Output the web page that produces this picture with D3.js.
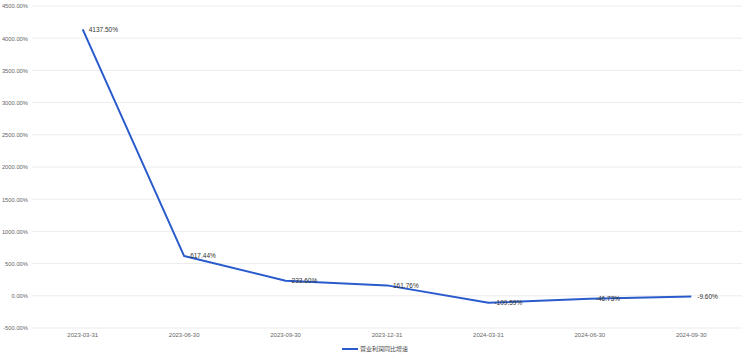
<!DOCTYPE html>
<html>
<head>
<meta charset="utf-8">
<script src="https://cdn.jsdelivr.net/npm/d3@7"></script>
<style>
  body { margin: 0; background: #fff; }
  text { font-family: "Liberation Sans", "Noto Sans CJK SC", sans-serif; }
  .cjk { font-family: "Noto Sans CJK SC", sans-serif; }
</style>
</head>
<body>
<div id="wrapper"></div>
<script>
const dates = ["2023-03-31", "2023-06-30", "2023-09-30", "2023-12-31", "2024-03-31", "2024-06-30", "2024-09-30"]
const growth = [4137.50, 617.44, 233.60, 161.76, -109.59, -46.73, -9.60]
const yTicks = [-500, 0, 500, 1000, 1500, 2000, 2500, 3000, 3500, 4000, 4500]
const seriesName = "营业利润同比增速"

let dimensions = {
    width: 750,
    height: 358,
    margin: { top: 6, right: 8, bottom: 30, left: 32 },
}
dimensions.boundedWidth = dimensions.width - dimensions.margin.left - dimensions.margin.right
dimensions.boundedHeight = dimensions.height - dimensions.margin.top - dimensions.margin.bottom

const lineColor = "#2a5bcc"

const svg = d3.select("#wrapper")
    .append("svg")
    .attr("width", dimensions.width)
    .attr("height", dimensions.height)

const chart = svg.append("g")
    .attr("transform", `translate(${dimensions.margin.left},${dimensions.margin.top})`)

const xScale = d3.scaleBand()
    .domain(dates)
    .range([0, dimensions.boundedWidth])

const yScale = d3.scaleLinear()
    .domain([-500, 4500])
    .range([dimensions.boundedHeight, 0])

// grid lines
chart.append("g")
    .selectAll("line")
    .data(yTicks)
    .enter()
    .append("line")
    .attr("x1", 0)
    .attr("x2", dimensions.boundedWidth)
    .attr("y1", d => yScale(d))
    .attr("y2", d => yScale(d))
    .attr("stroke", "#ececec")
    .attr("stroke-width", 1)

// y axis
const yAxis = d3.axisLeft(yScale)
    .tickValues(yTicks)
    .tickSize(0)
    .tickPadding(4)
    .tickFormat(d => d.toFixed(2) + "%")
const yAxisG = chart.append("g").call(yAxis)
yAxisG.select(".domain").remove()
yAxisG.selectAll("text")
    .attr("fill", "#666")
    .style("font-family", "'Liberation Sans', sans-serif")
    .style("font-size", "5.8px")

// x axis
const xAxis = d3.axisBottom(xScale).tickSize(0).tickPadding(5)
const xAxisG = chart.append("g")
    .attr("transform", `translate(0,${dimensions.boundedHeight})`)
    .call(xAxis)
xAxisG.select(".domain").remove()
xAxisG.selectAll("text")
    .attr("fill", "#666")
    .style("font-family", "'Liberation Sans', sans-serif")
    .style("font-size", "6px")

const xPos = d => xScale(d) + xScale.bandwidth() / 2
const points = dates.map((d, i) => ({ date: d, value: growth[i] }))

chart.append("path")
    .datum(points)
    .attr("fill", "none")
    .attr("stroke", lineColor)
    .attr("stroke-width", 2)
    .attr("stroke-linejoin", "round")
    .attr("d", d3.line()
        .x(d => xPos(d.date))
        .y(d => yScale(d.value))
    )

chart.append("g")
    .selectAll("text")
    .data(points)
    .enter()
    .append("text")
    .attr("x", d => xPos(d.date) + 6)
    .attr("y", d => yScale(d.value))
    .attr("dy", "0.35em")
    .attr("fill", "#333")
    .style("font-family", "'Liberation Sans', sans-serif")
    .style("font-size", "6.5px")
    .text(d => d.value.toFixed(2) + "%")

// legend
const legend = svg.append("g")
    .attr("transform", `translate(${dimensions.width / 2 - 33},349)`)
legend.append("line")
    .attr("x1", 0)
    .attr("x2", 16)
    .attr("stroke", lineColor)
    .attr("stroke-width", 2)
legend.append("text")
    .attr("class", "cjk")
    .attr("x", 18)
    .attr("dy", "0.35em")
    .attr("fill", "#444")
    .style("font-size", "6px")
    .text(seriesName)
</script>
</body>
</html>
